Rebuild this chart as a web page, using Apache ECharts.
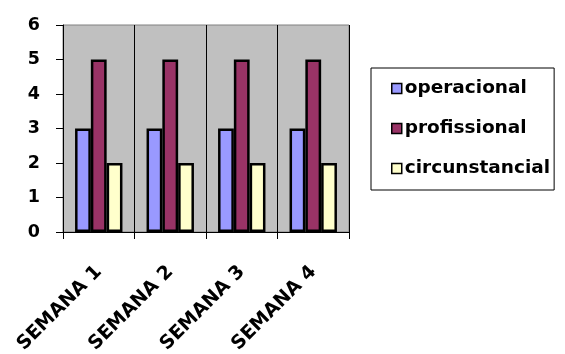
<!DOCTYPE html>
<html>
<head>
<meta charset="utf-8">
<script src="https://cdn.jsdelivr.net/npm/echarts@6/dist/echarts.min.js"></script>
<style>
  html, body { margin: 0; padding: 0; background: #fff; }
  #chart { width: 565px; height: 354px; }
</style>
</head>
<body>
<div id="chart"></div>
<script>
// Weekly counts per category
const semanas = ['SEMANA 1', 'SEMANA 2', 'SEMANA 3', 'SEMANA 4'];
const operacional = [3, 3, 3, 3];
const profissional = [5, 5, 5, 5];
const circunstancial = [2, 2, 2, 2];
const yTicks = [0, 1, 2, 3, 4, 5, 6];

const FONT = '"DejaVu Sans", "Liberation Sans", Arial, sans-serif';

const chart = echarts.init(document.getElementById('chart'), null, { renderer: 'canvas' });

function barSeries(name, data, color) {
  return {
    name: name,
    type: 'bar',
    data: data,
    barWidth: 15.8,
    barGap: '0%',
    itemStyle: { color: color, borderColor: '#000', borderWidth: 2.5 },
    emphasis: { disabled: true }
  };
}

chart.setOption({
  animation: false,
  backgroundColor: '#fff',
  grid: {
    left: 63, top: 25, width: 286, height: 207,
    containLabel: false,
    outerBoundsMode: 'none',
    show: true, backgroundColor: '#C0C0C0', borderColor: '#808080', borderWidth: 1
  },
  legend: {
    orient: 'vertical',
    left: 371, top: 68,
    padding: [11, 4, 12, 20],
    itemGap: 21,
    itemWidth: 10, itemHeight: 10,
    icon: 'rect',
    borderColor: '#000', borderWidth: 1,
    backgroundColor: '#fff',
    itemStyle: { borderColor: '#000', borderWidth: 1.5 },
    textStyle: { fontFamily: FONT, fontWeight: 'bold', fontSize: 18.5, color: '#000', padding: [0, 0, 0, -2] },
    data: ['operacional', 'profissional', 'circunstancial']
  },
  xAxis: {
    type: 'category',
    data: semanas,
    boundaryGap: true,
    axisLine: { show: true, lineStyle: { color: '#000', width: 1 } },
    axisTick: { show: true, length: 7, alignWithLabel: false, lineStyle: { color: '#000' } },
    splitLine: { show: true, lineStyle: { color: '#000', width: 1 } },
    axisLabel: {
      rotate: 45, margin: 37, interval: 0,
      fontFamily: FONT, fontWeight: 'bold', fontSize: 19, color: '#000'
    }
  },
  yAxis: {
    type: 'value',
    min: yTicks[0], max: yTicks[yTicks.length - 1], interval: 1,
    axisLine: { show: true, lineStyle: { color: '#000', width: 1 } },
    axisTick: { show: true, length: 7, lineStyle: { color: '#000' } },
    splitLine: { show: false },
    axisLabel: {
      margin: 23,
      fontFamily: FONT, fontWeight: 'bold', fontSize: 17.5, color: '#000'
    }
  },
  series: [
    barSeries('operacional', operacional, '#9999FF'),
    barSeries('profissional', profissional, '#993366'),
    barSeries('circunstancial', circunstancial, '#FFFFCC')
  ]
});
</script>
</body>
</html>
